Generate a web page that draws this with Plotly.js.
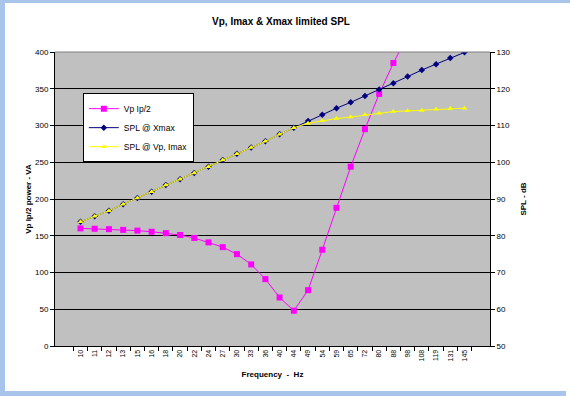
<!DOCTYPE html>
<html>
<head>
<meta charset="utf-8">
<script src="https://cdn.plot.ly/plotly-3.0.1.min.js"></script>
<style>
  html, body { margin: 0; padding: 0; background: #fff; }
  #wrap { position: relative; width: 570px; height: 396px; overflow: hidden; }
  #chart { position: absolute; left: 0; top: 0; width: 570px; height: 396px; }
  .strip { position: absolute; background: #A9C4EA; pointer-events: none; }
</style>
</head>
<body>
<div id="wrap">
  <div id="chart"></div>
  <div class="strip" style="left:0;top:0;width:570px;height:3px;"></div>
  <div class="strip" style="left:0;top:0;width:5px;height:396px;"></div>
  <div class="strip" style="left:0;top:391px;width:566px;height:5px;"></div>
</div>
<script>
const freqLabels = ["10","11","12","13","15","16","18","20","22","24","27","30","33","36","40","44","49","54","59","65","72","80","88","98","108","119","131","145"];
const vpIp2 = [160, 159.5, 159, 158, 157, 155.5, 153.5, 151, 147, 141, 134.5, 125, 111, 91, 66, 48, 76, 131, 188, 244, 295, 343, 385, 425, 460, 490, 515, 540];
const splXmax = [83.8, 85.3, 86.8, 88.6, 90.3, 92.0, 93.8, 95.4, 97.1, 98.8, 100.6, 102.3, 104.0, 105.7, 107.6, 109.4, 111.2, 112.9, 114.7, 116.3, 118.0, 119.8, 121.5, 123.3, 125.1, 126.7, 128.4, 129.9];
const splVpImax = [83.8, 85.3, 86.8, 88.6, 90.3, 92.0, 93.8, 95.4, 97.1, 98.8, 100.6, 102.3, 104.0, 105.7, 107.6, 109.4, 110.6, 111.3, 111.9, 112.3, 112.9, 113.3, 113.8, 114.0, 114.1, 114.4, 114.6, 114.7];

const font = "Liberation Sans, Arial, sans-serif";

const traces = [
  {
    x: freqLabels, y: vpIp2, name: "Vp Ip/2", type: "scatter", mode: "lines+markers",
    line: { color: "#FF00FF", width: 1 },
    marker: { symbol: "square", size: 6, color: "#FF00FF" },
    yaxis: "y"
  },
  {
    x: freqLabels, y: splXmax, name: "SPL @ Xmax", type: "scatter", mode: "lines+markers",
    line: { color: "#000080", width: 1 },
    marker: { symbol: "diamond", size: 5, color: "#000080" },
    yaxis: "y2"
  },
  {
    x: freqLabels, y: splVpImax, name: "SPL @ Vp, Imax", type: "scatter", mode: "lines+markers",
    line: { color: "#FFFF00", width: 1 },
    marker: { symbol: "triangle-up", size: 5, color: "#FFFF00" },
    yaxis: "y2"
  }
];

const layout = {
  width: 570, height: 396,
  margin: { l: 55, r: 80, t: 52, b: 50, pad: 0 },
  paper_bgcolor: "#FFFFFF",
  plot_bgcolor: "#C0C0C0",
  font: { family: font, size: 8, color: "#000" },
  title: {
    text: "<b>Vp, Imax & Xmax limited SPL</b>",
    font: { family: font, size: 10, color: "#000" },
    x: 0.493, xanchor: "center", y: 0.945, yanchor: "middle"
  },
  showlegend: true,
  legend: {
    x: 0.064, y: 0.86, xanchor: "left", yanchor: "top",
    bgcolor: "#FFFFFF", bordercolor: "#000000", borderwidth: 1,
    font: { family: font, size: 8.5, color: "#000" },
    tracegroupgap: 0, itemwidth: 30
  },
  shapes: [
    { type: "line", xref: "paper", yref: "paper", x0: 0, x1: 1, y0: 1, y1: 1,
      line: { color: "#808080", width: 1 }, layer: "above" }
  ],
  xaxis: {
    type: "category",
    tickangle: -90,
    tickson: "boundaries",
    ticks: "outside", ticklen: 4, tickcolor: "#000",
    showline: true, linecolor: "#000", linewidth: 1,
    showgrid: false, zeroline: false,
    tickfont: { family: font, size: 7, color: "#000" },
    title: { text: "<b>Frequency  -  Hz</b>", font: { family: font, size: 8, color: "#000" }, standoff: 10 },
    automargin: false
  },
  yaxis: {
    range: [0, 400], dtick: 50,
    ticks: "outside", ticklen: 4, tickcolor: "#000",
    showline: true, linecolor: "#000", linewidth: 1,
    showgrid: true, gridcolor: "#000", gridwidth: 1,
    zeroline: false,
    tickfont: { family: font, size: 8, color: "#000" },
    title: { text: "<b>Vp Ip/2 power - VA</b>", font: { family: font, size: 8, color: "#000" }, standoff: 2 },
    automargin: false
  },
  yaxis2: {
    overlaying: "y", side: "right",
    range: [50, 130], dtick: 10,
    ticks: "outside", ticklen: 4, tickcolor: "#000",
    showline: true, linecolor: "#000", linewidth: 1,
    showgrid: false, zeroline: false,
    tickfont: { family: font, size: 8, color: "#000" },
    title: { text: "<b>SPL - dB</b>", font: { family: font, size: 8, color: "#000" }, standoff: 10 },
    automargin: false
  }
};

Plotly.newPlot("chart", traces, layout, { displayModeBar: false, staticPlot: true });
</script>
</body>
</html>
